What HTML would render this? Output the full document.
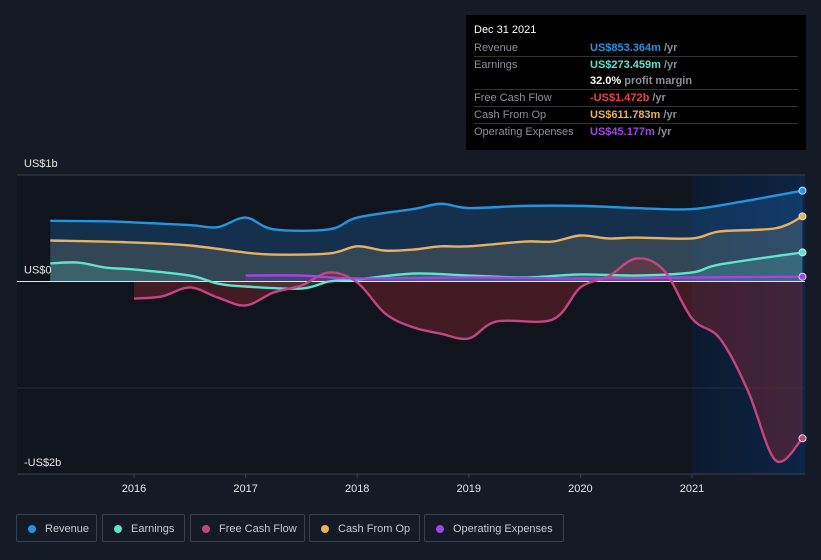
<!DOCTYPE html>
<html><head><meta charset="utf-8">
<style>
body{margin:0;background:#151b26;width:821px;height:560px;overflow:hidden;font-family:"Liberation Sans",sans-serif;}
#wrap{position:relative;width:821px;height:560px;}
svg{position:absolute;left:0;top:0}
.tip{position:absolute;left:466px;top:15px;width:340px;height:135px;background:#000;font-size:11px;color:#8a8f98}
.tip .row{position:absolute;left:8px;right:8px;height:16px;border-bottom:1px solid #333;line-height:16px}
.tip .row span.v{position:absolute;left:116px}
.legend{position:absolute;top:514px;height:28px;border:1px solid #3a404b;border-radius:2px;color:#c7cad0;font-size:11px;line-height:28px;box-sizing:border-box}
.legend i{position:absolute;left:11px;top:10px;width:8px;height:8px;border-radius:50%}
.legend span{position:absolute;left:28px}
</style></head><body>
<div id="wrap">
<svg id="chart" width="821" height="500"></svg>
<div class="tip">
 <div style="position:absolute;left:8px;top:9px;color:#fff;font-size:11px">Dec 31 2021</div>
 <div class="row" style="top:25px">Revenue<span class="v" style="color:#2394df;font-weight:bold">US$853.364m <b style="color:#8a8f98">/yr</b></span></div>
 <div class="row" style="top:42px;border:none">Earnings<span class="v" style="color:#5ee4cd;font-weight:bold">US$273.459m <b style="color:#8a8f98">/yr</b></span></div>
 <div class="row" style="top:58px"><span class="v" style="color:#fff;font-weight:bold">32.0% <b style="color:#8a8f98">profit margin</b></span></div>
 <div class="row" style="top:75px">Free Cash Flow<span class="v" style="color:#e8434c;font-weight:bold">-US$1.472b <b style="color:#8a8f98">/yr</b></span></div>
 <div class="row" style="top:92px">Cash From Op<span class="v" style="color:#e8b060;font-weight:bold">US$611.783m <b style="color:#8a8f98">/yr</b></span></div>
 <div class="row" style="top:109px;border:none">Operating Expenses<span class="v" style="color:#a046e8;font-weight:bold">US$45.177m <b style="color:#8a8f98">/yr</b></span></div>
</div>
<div class="legend" style="left:16px;width:81px"><i style="background:#2394df"></i><span>Revenue</span></div>
<div class="legend" style="left:102px;width:83px"><i style="background:#5ee4cd"></i><span>Earnings</span></div>
<div class="legend" style="left:190px;width:115px"><i style="background:#c5457e"></i><span>Free Cash Flow</span></div>
<div class="legend" style="left:309px;width:111px"><i style="background:#e8b060"></i><span>Cash From Op</span></div>
<div class="legend" style="left:424px;width:140px"><i style="background:#a046e8"></i><span>Operating Expenses</span></div>
</div>
<script>
const revT=[2015.25,2015.75,2016,2016.5,2016.75,2017,2017.25,2017.75,2018,2018.5,2018.75,2019,2019.5,2020,2020.5,2021,2021.5,2021.99];
const revV=[570,565,555,530,510,600,490,490,600,680,730,690,710,710,690,680,760,853];
const cfoT=[2015.25,2016,2016.5,2017,2017.25,2017.75,2018,2018.25,2018.5,2018.75,2019,2019.5,2019.75,2020,2020.25,2020.5,2021,2021.25,2021.75,2021.99];
const cfoV=[385,366,338,272,253,263,330,290,300,330,330,375,375,432,404,413,404,470,500,612];
const earnT=[2015.25,2015.5,2015.75,2016,2016.5,2016.75,2017,2017.5,2017.75,2018,2018.5,2019,2019.5,2020,2020.5,2021,2021.25,2021.99];
const earnV=[170,178,130,113,56,-19,-47,-66,0,19,75,56,38,66,56,85,160,273];
const fcfT=[2016,2016.25,2016.5,2016.75,2017,2017.25,2017.5,2017.75,2018,2018.25,2018.5,2018.75,2019,2019.25,2019.75,2020,2020.25,2020.5,2020.75,2021,2021.25,2021.5,2021.75,2021.99];
const fcfV=[-160,-140,-56,-150,-225,-103,-38,85,-9,-300,-430,-490,-535,-375,-357,-56,47,216,103,-347,-535,-1023,-1680,-1472];
const opxT=[2017,2017.5,2018,2019,2020,2021,2021.99];
const opxV=[56,56,28,38,28,38,45];
const yTicks=[1000,0,-1000];
const yLabels=["US$1b","US$0","-US$2b"];
const xYears=[2016,2017,2018,2019,2020,2021];

const X=t=>134+(t-2016)*111.6;
const Y=v=>281.5-v*0.1065;
const svg=document.getElementById('chart');
const NS='http://www.w3.org/2000/svg';
function mk(tag,attrs,name){const e=document.createElementNS(NS,tag);for(const k in attrs)e.setAttribute(k,attrs[k]);


svg.appendChild(e);return e;}
function curve(T,V){const p=T.map((t,i)=>[X(t),Y(V[i])]);let d='M'+p[0][0]+','+p[0][1];
for(let i=0;i<p.length-1;i++){const p0=p[i-1]||p[i],p1=p[i],p2=p[i+1],p3=p[i+2]||p2;
d+=` C${p1[0]+(p2[0]-p0[0])/6},${p1[1]+(p2[1]-p0[1])/6} ${p2[0]-(p3[0]-p1[0])/6},${p2[1]-(p3[1]-p1[1])/6} ${p2[0]},${p2[1]}`;}return d;}
const defs=mk('defs',{},'defs');
defs.innerHTML='<linearGradient id="hl" x1="0" x2="1"><stop offset="0" stop-color="#0c1a2e"/><stop offset="1" stop-color="#0c2446"/></linearGradient>';
mk('rect',{x:17,y:175,width:675,height:299,fill:'#10141d'},'plot-background');
mk('rect',{x:692,y:175,width:113,height:299,fill:'url(#hl)'},'forecast-highlight');
mk('line',{x1:17,x2:805,y1:175,y2:175,stroke:'#3a404b'},'grid-top');
mk('line',{x1:17,x2:805,y1:Y(-1000),y2:Y(-1000),stroke:'#262c36'},'grid-mid');
mk('line',{x1:17,x2:805,y1:474,y2:474,stroke:'#3a404b'},'grid-bottom');
const series=[[revT,revV,'#2394df','rgba(30,100,170,0.35)','revenue'],[cfoT,cfoV,'#e8b060','rgba(160,150,120,0.22)','cash-from-op'],[earnT,earnV,'#5ee4cd','rgba(94,228,205,0.18)','earnings'],[fcfT,fcfV,'#c5457e','rgba(150,40,50,0.38)','free-cash-flow'],[opxT,opxV,'#a046e8','rgba(160,70,232,0.15)','operating-expenses']];
series.forEach(s=>{const d=curve(s[0],s[1]);const x0=X(s[0][0]),x1=X(s[0][s[0].length-1]);
mk('path',{d:d+` L${x1},${Y(0)} L${x0},${Y(0)} Z`,fill:s[3]},s[4]+'-area');});
mk('line',{x1:17,x2:805,y1:Y(0),y2:Y(0),stroke:'#e6e6e6','stroke-width':1},'zero-line');
series.forEach(s=>{mk('path',{d:curve(s[0],s[1]),fill:'none',stroke:s[2],'stroke-width':2.4},s[4]+'-line');
const n=s[0].length-1;mk('circle',{cx:X(s[0][n]),cy:Y(s[1][n]),r:3.5,fill:s[2],stroke:'#ddd','stroke-width':1},s[4]+'-end-dot');});
yTicks.forEach((v,i)=>{const t=mk('text',{x:24,y:i==2?466:Y(v)-8,fill:'#e6e6e6','font-size':11},'y-label');t.textContent=yLabels[i];});
xYears.forEach(yr=>{const t=mk('text',{x:X(yr),y:492,fill:'#e6e6e6','font-size':11,'text-anchor':'middle'},'x-label');t.textContent=yr;
mk('line',{x1:X(yr),x2:X(yr),y1:474,y2:478,stroke:'#3a404b'},'x-tick');});
</script>
</body></html>
